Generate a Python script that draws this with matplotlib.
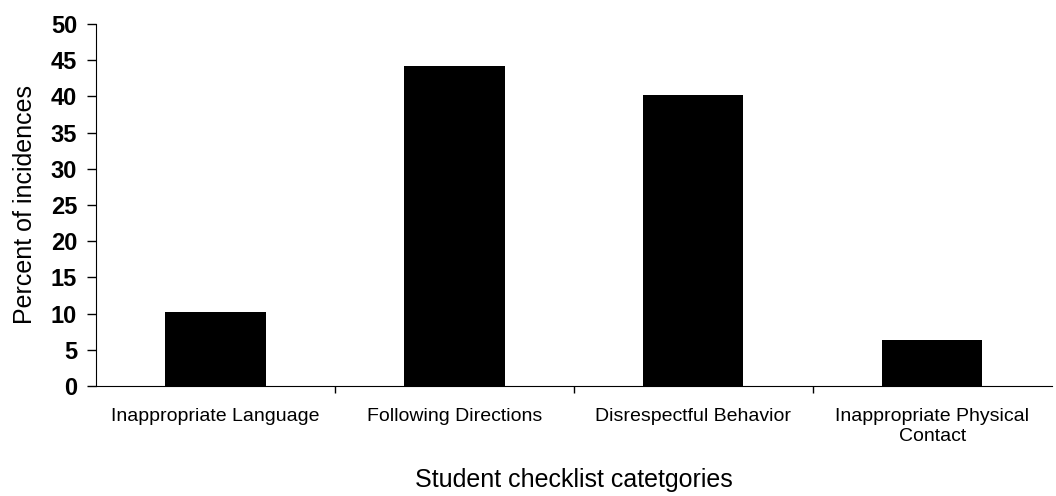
import numpy as np
import matplotlib.pyplot as plt

categories = ["Inappropriate Language", "Following Directions",
              "Disrespectful Behavior", "Inappropriate Physical\nContact"]
percent = [10.2, 44.2, 40.2, 6.3]

plt.rcParams['font.family'] = ['Liberation Sans', 'DejaVu Sans']

fig = plt.figure(figsize=(10.56, 4.96), dpi=100)
ax = fig.add_axes([0.0909, 0.2218, 0.905, 0.7298])

x = np.arange(len(categories))
ax.bar(x, percent, width=0.42, color='black')

ax.set_xlim(-0.5, len(categories) - 0.5)
ax.set_ylim(0, 50)
ax.set_yticks(np.arange(0, 51, 5))
ax.tick_params(axis='y', labelsize=17, length=6.5, width=1, pad=7)
for t in ax.get_yticklabels():
    t.set_fontweight('bold')

ax.set_xticks(x)
ax.set_xticklabels(categories, fontsize=14)
ax.tick_params(axis='x', length=0, pad=16)
ax.set_xticks(x[:-1] + 0.5, minor=True)
ax.tick_params(axis='x', which='minor', length=5, width=1)

ax.spines['top'].set_visible(False)
ax.spines['right'].set_visible(False)

ax.set_ylabel("Percent of incidences", fontsize=18, labelpad=10)
ax.set_xlabel("Student checklist catetgories", fontsize=18, labelpad=17)

fig.savefig("out.png", dpi=100)
